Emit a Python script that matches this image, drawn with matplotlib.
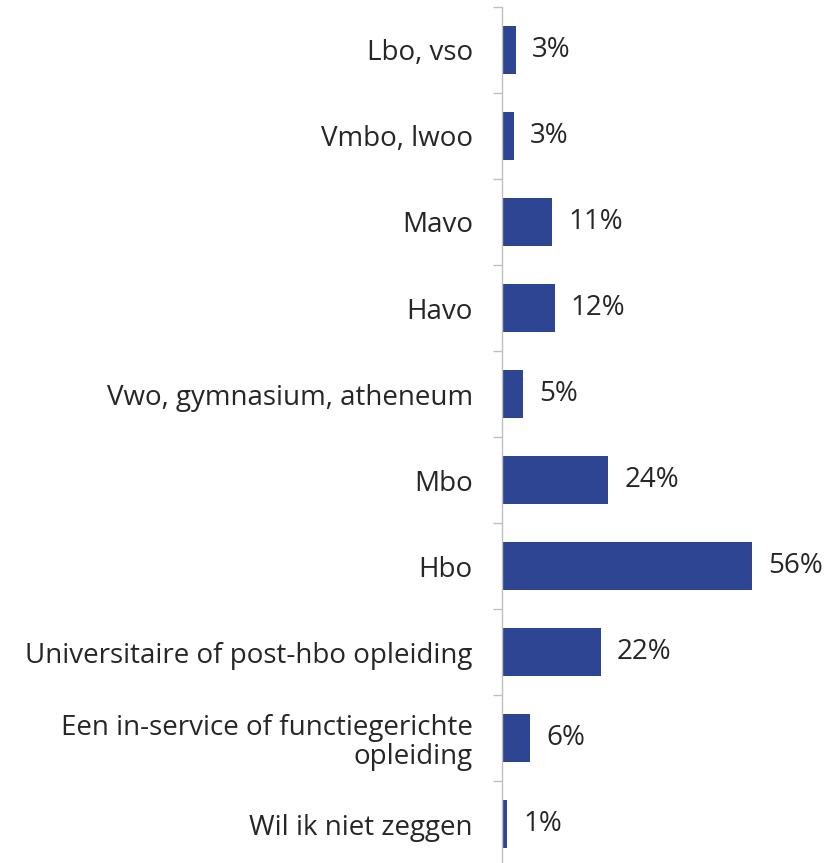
import numpy as np
import matplotlib.pyplot as plt

plt.rcParams['font.family'] = ['Open Sans', 'DejaVu Sans']

categories = [
    "Lbo, vso",
    "Vmbo, lwoo",
    "Mavo",
    "Havo",
    "Vwo, gymnasium, atheneum",
    "Mbo",
    "Hbo",
    "Universitaire of post-hbo opleiding",
    "Een in-service of functiegerichte\nopleiding",
    "Wil ik niet zeggen",
]
values = [3.1, 2.7, 11.2, 11.8, 4.7, 23.8, 56.0, 22.2, 6.3, 1.1]
value_labels = ["3%", "3%", "11%", "12%", "5%", "24%", "56%", "22%", "6%", "1%"]

W, H = 829, 863
fig = plt.figure(figsize=(W / 100, H / 100), dpi=100)
# axes placed in pixel units
left, right, top, bottom = 502, 829, 7, 867
ax = fig.add_axes([left / W, (H - bottom) / H, (right - left) / W, (bottom - top) / H])

bar_color = "#2E4593"
text_color = "#262626"
grey = "#BFBFBF"

y = np.arange(len(categories))
ax.barh(y, values, height=0.55, color=bar_color)
ax.set_ylim(len(categories) - 0.5, -0.5)
ax.set_xlim(0, (right - left) / 4.46)

for yi, v, lab in zip(y, values, value_labels):
    ax.text(v + 3.6, yi, lab, va="center", ha="left", fontsize=20, color=text_color)

ax.set_yticks(y)
ax.set_yticklabels(categories, fontsize=20, color=text_color, ha="right",
                   linespacing=1.05)
ax.tick_params(axis="y", which="major", length=0, pad=21)
ax.set_yticks(np.arange(-0.5, len(categories)), minor=True)
ax.tick_params(axis="y", which="minor", length=6.5, width=1, color=grey, direction="out")
ax.set_xticks([])

for s in ["top", "right", "bottom"]:
    ax.spines[s].set_visible(False)
ax.spines["left"].set_color(grey)
ax.spines["left"].set_linewidth(1)

fig.savefig("out.png", dpi=100)
